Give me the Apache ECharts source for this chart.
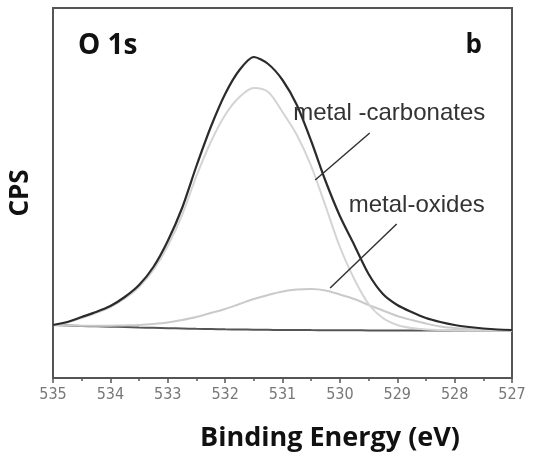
<!DOCTYPE html>
<html><head><meta charset="utf-8">
<script src="https://cdn.jsdelivr.net/npm/echarts@6/dist/echarts.min.js"></script>
<style>html,body{margin:0;padding:0;background:#fff}#c{width:533px;height:459px}</style>
</head><body><div id="c"></div>
<script>
// Binding energy grid (eV)
const energy = [535.00,534.75,534.50,534.25,534.00,533.75,533.50,533.25,533.00,532.75,532.50,532.25,532.00,531.75,531.50,531.25,531.00,530.75,530.50,530.25,530.00,529.75,529.50,529.25,529.00,528.75,528.50,528.25,528.00,527.75,527.50,527.25,527.00];
// Measured envelope (CPS, arbitrary units)
const envelope = [53,56,61,66,72,81,93,111,137,170,212,251,284,308,321,314,298,273,237,197,162,133,104,84,73,66,60,56,53,51,49.5,48.5,48];
// Fitted components
const carbonates = [53,55.5,60,65,71,79.5,91,108,132,163,202,236,263,281,290,286,266,243,212,172,131,99,74,60,53,50,48.5,48,47.8,47.6,47.5,47.5,47.5];
const oxides = [53,52.5,52.3,52.2,52.3,52.6,53,54,55.5,58,61,65,69,74,79,83,86.5,88.5,89,87.5,83.5,79,73,67.5,62,58,54.5,51.5,50,49,48,47.6,47.5];
const background = [53,52.5,52,51.7,51.3,51,50.5,50.2,49.8,49.5,49.2,49,48.7,48.5,48.3,48.2,48,48,47.9,47.8,47.7,47.7,47.6,47.6,47.5,47.5,47.5,47.5,47.5,47.5,47.5,47.5,47.5];
// Axis ticks
const xMin = 527, xMax = 535, xStep = 1;
// Annotations: [label, label position (eV, CPS), leader start, leader end]
const annotations = [
  {label:'metal -carbonates', at:[529.14,265], from:[529.48,245], to:[530.43,198]},
  {label:'metal-oxides', at:[528.66,173], from:[529.01,154], to:[530.17,90]}
];

const pairs = v => energy.map((e,i)=>[e,v[i]]);
const chart = echarts.init(document.getElementById('c'), null, {renderer:'canvas'});
chart.setOption({
  animation:false,
  backgroundColor:'#fff',
  title:[
    {text:'O 1s', left:78, top:32, padding:0, textStyle:{fontFamily:'Open Sans', fontWeight:'bold', fontSize:28, color:'#111'}},
    {text:'b', right:51, top:33, padding:0, textStyle:{fontFamily:'Open Sans', fontWeight:'bold', fontSize:26, color:'#111'}},
    {text:'Binding Energy (eV)', left:330, textAlign:'center', top:425, padding:0, textStyle:{fontFamily:'Open Sans', fontWeight:'bold', fontSize:27, color:'#111'}}
  ],
  grid:{left:52, right:21, top:8, bottom:81, show:true, borderColor:'#555', borderWidth:2, backgroundColor:'transparent'},
  xAxis:{type:'value', min:xMin, max:xMax, interval:xStep, inverse:true,
    axisLine:{show:true, onZero:false, lineStyle:{color:'#555', width:2}},
    axisTick:{show:true, inside:false, length:5, lineStyle:{color:'#555', width:1.5}},
    minorTick:{show:true, splitNumber:2, length:3, lineStyle:{color:'#555', width:1.5}},
    splitLine:{show:false},
    axisLabel:{margin:9, color:'#777', fontSize:16, fontFamily:'Liberation Sans Narrow, DejaVu Sans Condensed, sans-serif'}
  },
  yAxis:{type:'value', min:0, max:370,
    name:'CPS', nameLocation:'middle', nameGap:19, nameRotate:90,
    nameTextStyle:{fontFamily:'Open Sans', fontWeight:'bold', fontSize:26, color:'#111'},
    axisLine:{show:true, lineStyle:{color:'#555', width:2}},
    axisTick:{show:false}, axisLabel:{show:false}, splitLine:{show:false}
  },
  series:[
    {type:'line', data:pairs(background), symbol:'none', smooth:0.3, lineStyle:{color:'#555', width:2}, z:2},
    {type:'line', data:pairs(oxides), symbol:'none', smooth:0.3, lineStyle:{color:'#cacaca', width:2}, z:3},
    {type:'line', data:pairs(carbonates), symbol:'none', smooth:0.3, lineStyle:{color:'#d4d4d4', width:2}, z:3},
    {type:'line', data:pairs(envelope), symbol:'none', smooth:0.25, lineStyle:{color:'#2b2b2b', width:2.2}, z:4,
      markLine:{silent:true, symbol:['none','none'], animation:false,
        lineStyle:{color:'#333', width:1.5, type:'solid'}, label:{show:false},
        data:annotations.map(a=>[{coord:a.from},{coord:a.to}])},
      markPoint:{silent:true, symbol:'circle', symbolSize:0, animation:false,
        label:{show:true, position:'inside', formatter:'{b}', color:'#333', fontSize:24, fontFamily:'Liberation Sans, Arial, sans-serif'},
        data:annotations.map(a=>({name:a.label, coord:a.at}))}
    }
  ]
});
</script></body></html>
